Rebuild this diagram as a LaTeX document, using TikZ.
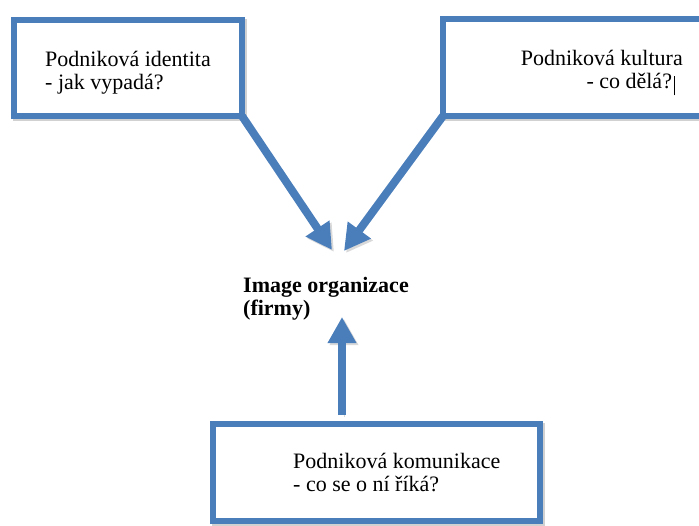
\documentclass[tikz,border=0pt]{standalone}
\usepackage{fontspec}
\setmainfont{Liberation Serif}
\usetikzlibrary{arrows.meta, shadows}
\definecolor{lineblue}{HTML}{4A7EBB}

\begin{document}
\begin{tikzpicture}[x=1pt, y=-1pt,
    box/.style={draw=lineblue, line width=6pt, fill=white, inner sep=0pt,
      outer sep=0pt, anchor=north west,
      preaction={draw=black, opacity=0.18,
        transform canvas={shift={(2pt,-2pt)}}}},
    txt/.style={inner sep=0pt, font=\fontsize{22}{23}\selectfont},
    boldtxt/.style={inner sep=0pt, font=\fontsize{22}{23}\selectfont\bfseries},
    link/.style={draw=lineblue, line width=8pt,
      -{Triangle[length=26pt, width=27pt]},
      preaction={draw=black, opacity=0.15,
        transform canvas={shift={(2pt,-2pt)}}}}]
  \path[use as bounding box, clip] (0,0) rectangle (699,525);
  % boxes
  \node[box, minimum width=228pt, minimum height=96pt] (identita) at (14,20) {};
  \node[box, minimum width=277pt, minimum height=97pt] (kultura) at (443,19) {};
  \node[box, minimum width=327pt, minimum height=97pt] (komunikace) at (213,424) {};
  % texts
  \node[txt, anchor=north west, align=left] (identitatext) at (45,51)
    {Podniková identita\\- jak vypadá?};
  \node[txt, anchor=north east, align=right] (kulturatext) at (683,50)
    {Podniková kultura\\- co dělá?\hspace{1.5pt}\rule[-7pt]{1.3pt}{19pt}\hspace*{8pt}};
  \node[boldtxt, anchor=north west, align=left] (image) at (243,277)
    {Image organizace\\(firmy)};
  \node[txt, anchor=north west, align=left] (komunikacetext) at (293,453)
    {Podniková komunikace\\- co se o ní říká?};
  % arrows
  \coordinate (tipL) at (332,250);
  \coordinate (tipR) at (344,251);
  \coordinate (tipU) at (342,317);
  \draw[link] (identita.south east) -- (tipL);
  \draw[link] (kultura.south west) -- (tipR);
  \draw[link, shorten <=9pt] (tipU |- komunikace.north) -- (tipU);
\end{tikzpicture}
\end{document}
